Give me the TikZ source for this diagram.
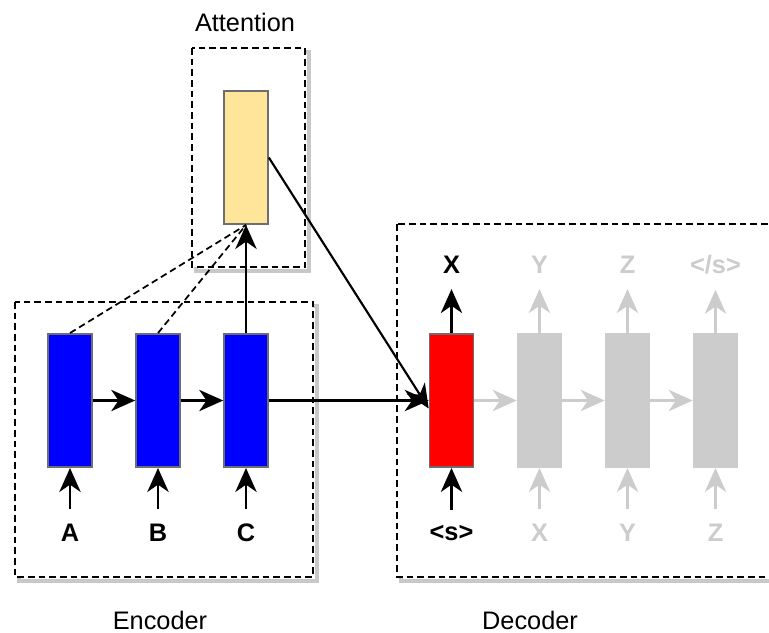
\documentclass[tikz,border=0pt]{standalone}
\usepackage{fontspec}
\setmainfont{Liberation Sans}
\usetikzlibrary{arrows.meta}

\definecolor{cellblue}{HTML}{0000FF}
\definecolor{cellred}{HTML}{FF0000}
\definecolor{cellyellow}{HTML}{FFE599}
\definecolor{cellgray}{HTML}{CCCCCC}
\definecolor{edgegray}{HTML}{6E6E6E}
\definecolor{shadowgray}{HTML}{C8C8C8}

\tikzset{
  cell/.style={draw=edgegray, line width=1.2pt, minimum width=33pt, minimum height=100pt, inner sep=0pt},
  ghost/.style={cell, draw=cellgray, fill=cellgray},
  token/.style={font=\fontsize{19}{22}\selectfont\bfseries},
  ghosttoken/.style={token, text=cellgray},
  caption/.style={font=\fontsize{19}{22}\selectfont},
  group/.style={draw, dashed, dash pattern=on 5pt off 3pt, line width=1.3pt, fill=white},
  groupshadow/.style={draw=shadowgray, line width=2.5pt},
  conn/.style={line width=1.6pt, -{Stealth[length=18pt,width=16pt,inset=5.5pt]}},
  ghostconn/.style={conn, draw=cellgray},
}

\begin{document}
\begin{tikzpicture}[x=0.75pt, y=-0.75pt]
  \useasboundingbox (0,0) rectangle (769,633);
  \clip (0,0) rectangle (769,633);

  % dashed groups with their shadows
  \draw[groupshadow] (196,52) rectangle (309,271);
  \draw[group] (192,48) rectangle (305,267);
  \draw[groupshadow] (19,306) rectangle (317,581);
  \draw[group] (15,302) rectangle (313,577);
  \draw[groupshadow] (401,228) rectangle (800,581);
  \draw[group] (397,224) rectangle (800,577);

  \node[caption] (attnlabel) at (245,22) {Attention};
  \node[caption] (enclabel) at (160,620) {Encoder};
  \node[caption] (declabel) at (530,620) {Decoder};

  % encoder
  \node[cell, fill=cellblue] (encA) at (70,400.5) {};
  \node[cell, fill=cellblue] (encB) at (158,400.5) {};
  \node[cell, fill=cellblue] (encC) at (246,400.5) {};
  \node[cell, fill=cellyellow] (attn) at (246,157.5) {};

  \node[token] (inA) at (70,533) {A};
  \node[token] (inB) at (158,533) {B};
  \node[token] (inC) at (246,533) {C};

  % decoder
  \node[cell, fill=cellred] (dec1) at (451.5,400.5) {};
  \node[ghost] (dec2) at (539.5,400.5) {};
  \node[ghost] (dec3) at (627.5,400.5) {};
  \node[ghost] (dec4) at (715.5,400.5) {};

  \node[token] (in1) at (451.5,533) {<s>};
  \node[ghosttoken] (in2) at (539.5,533) {X};
  \node[ghosttoken] (in3) at (627.5,533) {Y};
  \node[ghosttoken] (in4) at (715.5,533) {Z};

  \node[token] (out1) at (451.5,265) {X};
  \node[ghosttoken] (out2) at (539.5,265) {Y};
  \node[ghosttoken] (out3) at (627.5,265) {Z};
  \node[ghosttoken] (out4) at (715.5,265) {</s>};

  % connectors
  \draw[conn, shorten <=8pt] (inA.north) -- (encA.south);
  \draw[conn, shorten <=8pt] (inB.north) -- (encB.south);
  \draw[conn, shorten <=8pt] (inC.north) -- (encC.south);
  \draw[conn] (encA) -- (encB);
  \draw[conn] (encB) -- (encC);
  \draw[conn] (encC.north) -- (attn.south);
  \draw[line width=1.3pt, dashed, dash pattern=on 5pt off 3pt] (encA.north) -- (attn.south);
  \draw[line width=1.3pt, dashed, dash pattern=on 5pt off 3pt] (encB.north) -- (attn.south);
  \draw[conn] (encC) -- (dec1);
  \draw[conn] (attn.east) -- ([yshift=-6pt]dec1.west);

  \draw[conn, shorten <=8pt] (in1.north) -- (dec1.south);
  \draw[ghostconn, shorten <=8pt] (in2.north) -- (dec2.south);
  \draw[ghostconn, shorten <=8pt] (in3.north) -- (dec3.south);
  \draw[ghostconn, shorten <=8pt] (in4.north) -- (dec4.south);
  \draw[conn, shorten >=8pt] (dec1.north) -- (out1.south);
  \draw[ghostconn, shorten >=8pt] (dec2.north) -- (out2.south);
  \draw[ghostconn, shorten >=8pt] (dec3.north) -- (out3.south);
  \draw[ghostconn, shorten >=8pt] (dec4.north) -- (out4.south);
  \draw[ghostconn] (dec1) -- (dec2);
  \draw[ghostconn] (dec2) -- (dec3);
  \draw[ghostconn] (dec3) -- (dec4);
\end{tikzpicture}
\end{document}
